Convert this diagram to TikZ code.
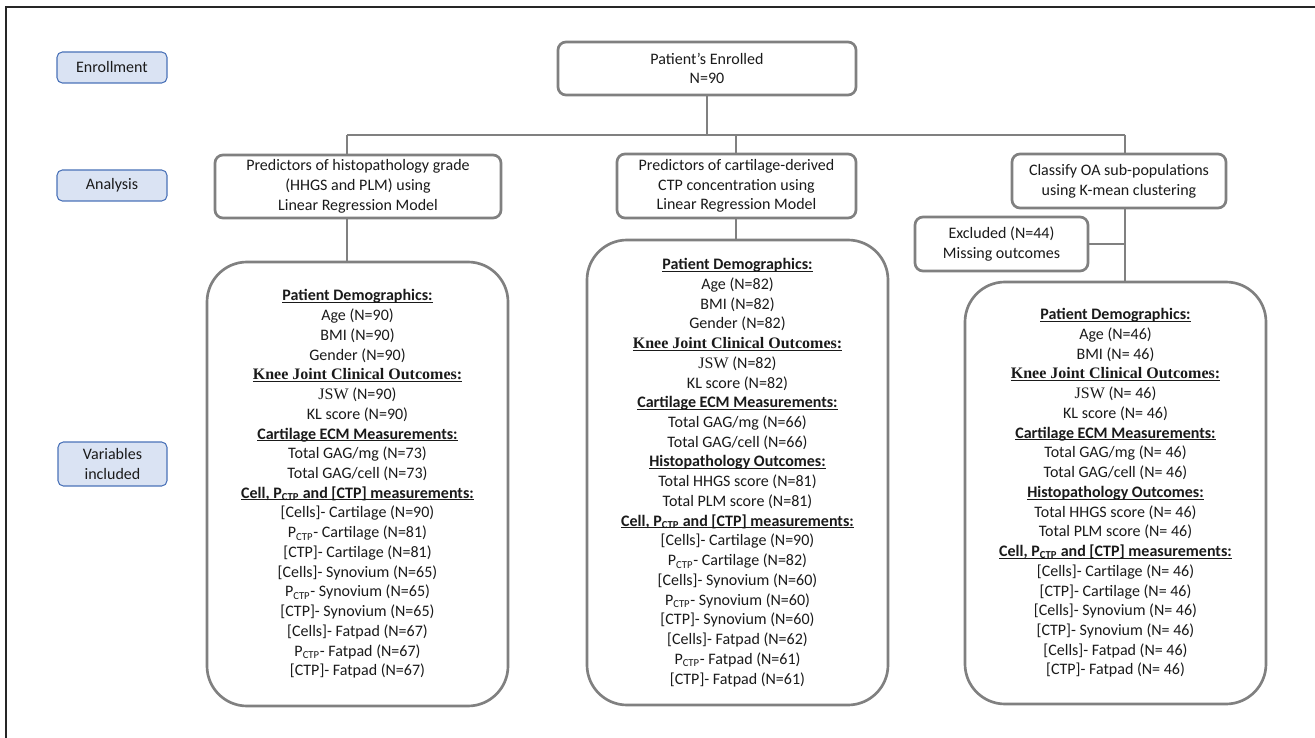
\documentclass[tikz,border=0pt]{standalone}
\usepackage{fontspec}
\setmainfont{Carlito}
\newfontfamily\tnr{Liberation Serif}
\definecolor{gline}{HTML}{808080}
\definecolor{lblfill}{HTML}{DAE3F3}
\definecolor{lbldraw}{HTML}{4A72B8}
\definecolor{txt}{HTML}{1A1A1A}
\newcommand{\hdr}[1]{\leavevmode\setbox0\hbox{\bfseries #1}\rlap{\copy0}\rule[-1.6pt]{\wd0}{0.7pt}}
\newcommand{\pc}{P\textsubscript{CTP}}
\newcommand{\cells}{[Cells]}
\newcommand{\ctp}{[CTP]}
\newcommand{\boxnode}[6]{\node[#1, minimum width={(#4-(#2))*0.75pt}, minimum height={(#5-(#3))*0.75pt}] (#6) at ({(#2+#4)/2},{(#3+#5)/2})}
\begin{document}
\begin{tikzpicture}[x=0.75pt,y=-0.75pt,
  every node/.style={font=\fontsize{12}{14.8}\selectfont, text=txt},
  lbl/.style={draw=lbldraw, fill=lblfill, line width=0.8pt, rounded corners=4pt, inner sep=0pt, align=center},
  gbox/.style={draw=gline, line width=2pt, rounded corners=6pt, inner sep=0pt, align=center, fill=white},
  bigbox/.style={draw=gline, line width=2pt, rounded corners=30pt, inner sep=0pt, align=center, fill=white},
  conn/.style={draw=gline, line width=2pt}]
\useasboundingbox (0,0) rectangle (1315,738);
\draw[line width=1.5pt, black!85] (6,738) -- (6,7) -- (1315,7);

% stage labels
\boxnode{lbl}{57}{52}{167}{83}{enr} {Enrollment};
\boxnode{lbl}{57}{170}{167}{201}{ana} {Analysis};
\boxnode{lbl}{58}{442}{167}{486}{var} {Variables\\included};

% junctions
\coordinate (jl) at (347,135);
\coordinate (jm) at (736,135);
\coordinate (jr) at (1125,135);

% boxes
\boxnode{gbox}{558}{42}{856}{95}{pat} {Patient’s Enrolled\\N=90};
\boxnode{gbox}{215}{155}{501}{218}{la} {Predictors of histopathology grade\\(HHGS and PLM) using\\Linear Regression Model};
\boxnode{gbox}{617}{154}{856}{218}{ma} {Predictors of cartilage-derived\\CTP concentration using\\Linear Regression Model};
\boxnode{gbox}{1012}{154}{1226}{208}{ra} {Classify OA sub-populations\\using K-mean clustering};
\boxnode{gbox}{915}{217}{1088}{271}{ex} {Excluded (N=44)\\Missing outcomes};

\boxnode{bigbox}{207}{262}{508}{706}{lb} {\hdr{Patient Demographics:}\\
Age (N=90)\\BMI (N=90)\\Gender (N=90)\\
\hdr{\tnr Knee Joint Clinical Outcomes:}\\
{\tnr JSW} (N=90)\\KL score (N=90)\\
\hdr{Cartilage ECM Measurements:}\\
Total GAG/mg (N=73)\\Total GAG/cell (N=73)\\
\hdr{Cell, \pc{} and \ctp{} measurements:}\\
\cells- Cartilage (N=90)\\
\pc- Cartilage (N=81)\\
\ctp- Cartilage (N=81)\\
\cells- Synovium (N=65)\\
\pc- Synovium (N=65)\\
\ctp- Synovium (N=65)\\
\cells- Fatpad (N=67)\\
\pc- Fatpad (N=67)\\
\ctp- Fatpad (N=67)};

\boxnode{bigbox}{587}{240}{888}{705}{mb} {\hdr{Patient Demographics:}\\
Age (N=82)\\BMI (N=82)\\Gender (N=82)\\
\hdr{\tnr Knee Joint Clinical Outcomes:}\\
{\tnr JSW} (N=82)\\KL score (N=82)\\
\hdr{Cartilage ECM Measurements:}\\
Total GAG/mg (N=66)\\Total GAG/cell (N=66)\\
\hdr{Histopathology Outcomes:}\\
Total HHGS score (N=81)\\Total PLM score (N=81)\\
\hdr{Cell, \pc{} and \ctp{} measurements:}\\
\cells- Cartilage (N=90)\\
\pc- Cartilage (N=82)\\
\cells- Synovium (N=60)\\
\pc- Synovium (N=60)\\
\ctp- Synovium (N=60)\\
\cells- Fatpad (N=62)\\
\pc- Fatpad (N=61)\\
\ctp- Fatpad (N=61)};

\boxnode{bigbox}{965}{282}{1266}{704}{rb} {\hdr{Patient Demographics:}\\
Age (N=46)\\BMI (N= 46)\\
\hdr{\tnr Knee Joint Clinical Outcomes:}\\
{\tnr JSW} (N= 46)\\KL score (N= 46)\\
\hdr{Cartilage ECM Measurements:}\\
Total GAG/mg (N= 46)\\Total GAG/cell (N= 46)\\
\hdr{Histopathology Outcomes:}\\
Total HHGS score (N= 46)\\Total PLM score (N= 46)\\
\hdr{Cell, \pc{} and \ctp{} measurements:}\\
\cells- Cartilage (N= 46)\\
\ctp- Cartilage (N= 46)\\
\cells- Synovium (N= 46)\\
\ctp- Synovium (N= 46)\\
\cells- Fatpad (N= 46)\\
\ctp- Fatpad (N= 46)};

% connectors
\draw[conn] (pat.south) -- (pat.south |- jl);
\draw[conn] (jl) -- (jr);
\draw[conn] (jl) -- (jl |- la.north);
\draw[conn] (jm) -- (jm |- ma.north);
\draw[conn] (jr) -- (jr |- ra.north);
\draw[conn] (jl |- la.south) -- (jl |- lb.north);
\draw[conn] (jm |- ma.south) -- (jm |- mb.north);
\draw[conn] (jr |- ra.south) -- (jr |- rb.north);
\draw[conn] (ex.east) -- (ex.east -| jr);
\end{tikzpicture}
\end{document}
